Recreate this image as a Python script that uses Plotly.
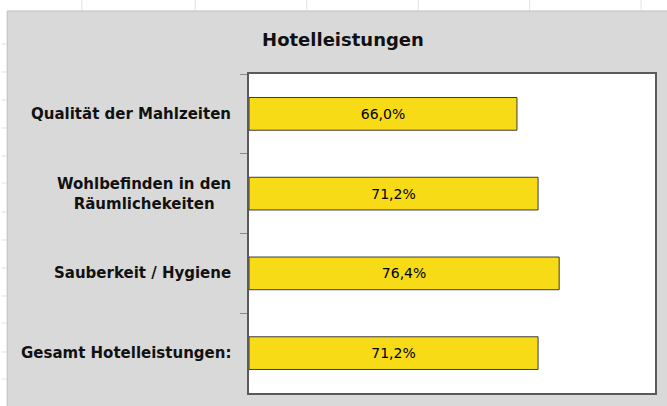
import plotly.graph_objects as go

categories = ["Qualität der Mahlzeiten", "Wohlbefinden in den<br>Räumlichekeiten",
              "Sauberkeit / Hygiene", "Gesamt Hotelleistungen:"]
values = [66.0, 71.2, 76.4, 71.2]
value_labels = ["66,0%", "71,2%", "76,4%", "71,2%"]
title_text = "Hotelleistungen"

W, H = 667, 406
L, R, T, B = 249, 10, 74, 13
pw, ph = W - L - R, H - T - B

def px(x):
    return (x - L) / pw

def py(y):
    return (H - B - y) / ph

fig = go.Figure()
fig.add_trace(go.Bar(
    y=categories, x=values, orientation="h",
    marker=dict(color="#F7DB16", line=dict(color="#3c3c3c", width=1)),
    text=value_labels, textposition="inside", insidetextanchor="middle",
    textfont=dict(family="DejaVu Sans", size=14, color="#000000"),
    hoverinfo="skip", width=0.41,
))

annotations = []
for c in categories:
    annotations.append(dict(
        x=0, xref="paper", xshift=-16, y=c, yref="y", text=c,
        xanchor="right", yanchor="middle", align="center", showarrow=False,
        font=dict(family="DejaVu Sans", size=15, color="#111111", weight="bold"),
    ))

shapes = []
# white sheet strips (top and left) with faint cell gridlines
shapes.append(dict(type="rect", xref="paper", yref="paper", x0=px(-5), x1=px(W + 5),
                   y0=py(-5), y1=py(11), fillcolor="white", line=dict(width=0), layer="above"))
shapes.append(dict(type="rect", xref="paper", yref="paper", x0=px(-5), x1=px(6),
                   y0=py(-5), y1=py(H + 5), fillcolor="white", line=dict(width=0), layer="above"))
for gx in [81, 195, 307, 419, 531, 643]:
    shapes.append(dict(type="line", xref="paper", yref="paper", x0=px(gx), x1=px(gx),
                       y0=py(0), y1=py(10.5), line=dict(color="#e2e2e2", width=1), layer="above"))
for gy in [44, 72, 100, 128, 156, 183, 212, 240, 268, 296, 323, 352, 379]:
    shapes.append(dict(type="line", xref="paper", yref="paper", x0=px(0), x1=px(5.5),
                       y0=py(gy), y1=py(gy), line=dict(color="#e2e2e2", width=1), layer="above"))
# chart area border
shapes.append(dict(type="rect", xref="paper", yref="paper", x0=px(6), x1=px(W + 5),
                   y0=py(H + 5), y1=py(11), fillcolor="rgba(0,0,0,0)",
                   line=dict(color="#bdbdbd", width=1), layer="above"))

fig.update_layout(
    width=W, height=H,
    margin=dict(l=L, r=R, t=T, b=B, pad=0),
    paper_bgcolor="#d9d9d9", plot_bgcolor="white",
    showlegend=False,
    title=dict(text="<b>" + title_text + "</b>", x=343 / W, xref="container", xanchor="center",
               y=1 - 40 / H, yref="container", yanchor="middle",
               font=dict(family="DejaVu Sans", size=18, color="#111111")),
    xaxis=dict(range=[0, 100], showgrid=False, zeroline=False, showticklabels=False,
               ticks="", showline=True, mirror=True, linecolor="#5a5a5a", linewidth=1.5,
               fixedrange=True),
    yaxis=dict(autorange="reversed", showgrid=False, zeroline=False, showticklabels=False,
               ticks="outside", tickson="boundaries", ticklen=7, tickcolor="#8a8a8a",
               tickwidth=1, showline=True, mirror=True, linecolor="#5a5a5a", linewidth=1.5,
               fixedrange=True),
    annotations=annotations,
    shapes=shapes,
)

fig.write_html("out.html", config=dict(displayModeBar=False),
               post_script="document.body.style.margin='0px';document.body.style.overflow='hidden';")
